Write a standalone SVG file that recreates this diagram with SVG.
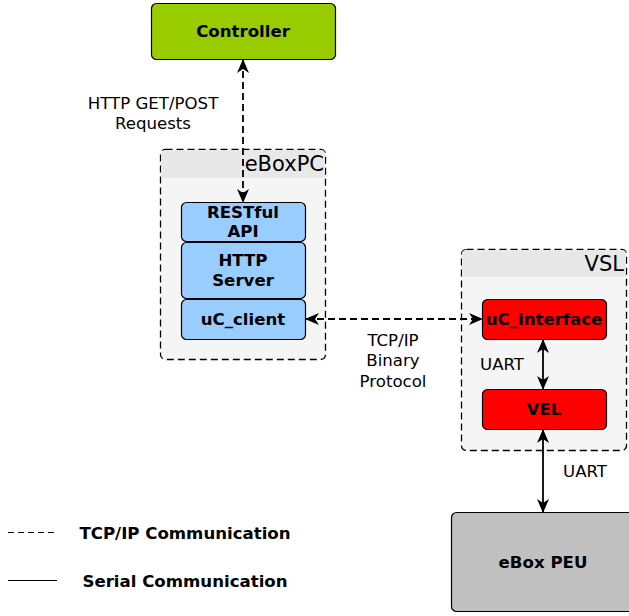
<svg xmlns="http://www.w3.org/2000/svg" width="629" height="616" viewBox="0 0 629 616">
<style>
  .t { font-family: "DejaVu Sans", sans-serif; fill: #000; text-anchor: middle; }
  .b { font-weight: bold; font-size: 16.6px; }
  .n { font-size: 16.6px; }
  .node { stroke: #000; stroke-width: 1.2; }
  .cont { fill: #f5f5f5; stroke: #000; stroke-width: 1.3; stroke-dasharray: 7 4; }
  .dash { fill: none; stroke: #000; stroke-width: 1.8; stroke-dasharray: 7 4; }
  .solid { fill: none; stroke: #000; stroke-width: 1.8; }
</style>
<defs>
  <marker id="ah" viewBox="0 0 14 12" refX="13" refY="6" markerWidth="14" markerHeight="12" markerUnits="userSpaceOnUse" orient="auto-start-reverse">
    <path d="M0,0 L14,6 L0,12 L4,6 Z" fill="#000"/>
  </marker>
</defs>
<rect width="629" height="616" fill="#fff"/>

<g id="eBoxPC">
  <rect class="cont" x="160.5" y="149.5" width="165" height="210" rx="5"/>
  <path d="M161,178 L161,154 Q161,150 165,150 L321,150 Q325,150 325,154 L325,178 Z" fill="#e8e8e8"/>
  <text class="t" x="324" y="171" style="text-anchor:end;font-size:21px">eBoxPC</text>
</g>
<g id="VSL">
  <rect class="cont" x="461.5" y="249.5" width="165" height="201" rx="5"/>
  <path d="M462,277 L462,254 Q462,250 466,250 L622,250 Q626,250 626,254 L626,277 Z" fill="#e8e8e8"/>
  <text class="t" x="624" y="271" style="text-anchor:end;font-size:21px">VSL</text>
</g>

<g id="Controller">
  <rect class="node" x="151.5" y="3.5" width="184" height="56" rx="5" fill="#99cc00"/>
  <text class="t b" x="243" y="37">Controller</text>
</g>
<g id="RESTful">
  <rect class="node" x="181.5" y="202.5" width="124" height="39" rx="5" fill="#99ccff"/>
  <text class="t b" x="243" y="218">RESTful</text>
  <text class="t b" x="243" y="237">API</text>
</g>
<g id="HTTPServer">
  <rect class="node" x="181.5" y="242.5" width="124" height="56" rx="5" fill="#99ccff"/>
  <text class="t b" x="243" y="266">HTTP</text>
  <text class="t b" x="243" y="286">Server</text>
</g>
<g id="uC_client">
  <rect class="node" x="181.5" y="299.5" width="124" height="40" rx="5" fill="#99ccff"/>
  <text class="t b" x="243" y="325">uC_client</text>
</g>
<g id="uC_interface">
  <rect class="node" x="482.5" y="299.5" width="124" height="40" rx="5" fill="#ff0000"/>
  <text class="t b" x="544" y="325">uC_interface</text>
</g>
<g id="VEL">
  <rect class="node" x="482.5" y="389.5" width="124" height="40" rx="5" fill="#ff0000"/>
  <text class="t b" x="544" y="415">VEL</text>
</g>
<g id="eBoxPEU">
  <rect class="node" x="451.5" y="512.5" width="184" height="99" rx="5" fill="#c0c0c0"/>
  <text class="t b" x="543" y="568">eBox PEU</text>
</g>

<g id="connectors">
  <line class="dash" x1="243" y1="60" x2="243" y2="202" marker-start="url(#ah)" marker-end="url(#ah)"/>
  <line class="dash" x1="306" y1="319" x2="482" y2="319" marker-start="url(#ah)" marker-end="url(#ah)"/>
  <line class="solid" x1="543" y1="340" x2="543" y2="389" marker-start="url(#ah)" marker-end="url(#ah)"/>
  <line class="solid" x1="543" y1="430" x2="543" y2="512" marker-start="url(#ah)" marker-end="url(#ah)"/>
  <text class="t n" x="153" y="109">HTTP GET/POST</text>
  <text class="t n" x="153" y="129">Requests</text>
  <text class="t n" x="393" y="346">TCP/IP</text>
  <text class="t n" x="393" y="366">Binary</text>
  <text class="t n" x="393" y="387">Protocol</text>
  <text class="t n" x="502" y="370">UART</text>
  <text class="t n" x="585" y="477">UART</text>
</g>

<g id="legend">
  <line x1="8" y1="532.5" x2="57" y2="532.5" stroke="#000" stroke-dasharray="6 4"/>
  <text class="t b" x="185" y="539">TCP/IP Communication</text>
  <line x1="8" y1="580.5" x2="57" y2="580.5" stroke="#000"/>
  <text class="t b" x="185" y="587">Serial Communication</text>
</g>
</svg>
